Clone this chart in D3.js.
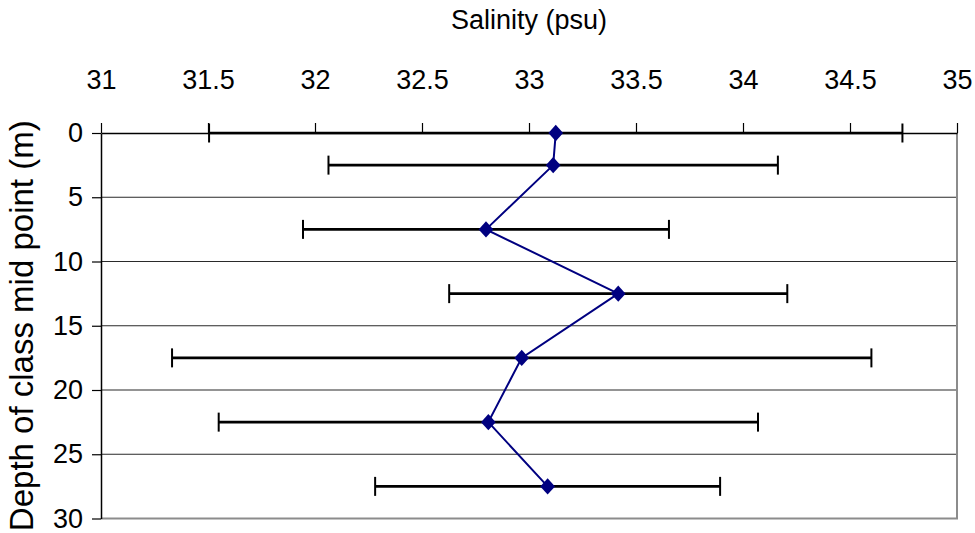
<!DOCTYPE html>
<html>
<head>
<meta charset="utf-8">
<script src="https://cdn.jsdelivr.net/npm/d3@7"></script>
<style>
  html, body { margin: 0; padding: 0; background: #fff; }
  svg { display: block; }
  text { font-family: "Liberation Sans", Arial, sans-serif; fill: #000; }
</style>
</head>
<body>
<svg id="chart" width="975" height="533"></svg>
<script>
// Depth class mid points (m) and salinity statistics (psu)
const depths = [0, 2.5, 7.5, 12.5, 17.5, 22.5, 27.5];
const meanSalinity = [33.125, 33.113, 32.799, 33.417, 32.966, 32.81, 33.087];
const sdSalinity = [1.62, 1.05, 0.855, 0.79, 1.634, 1.26, 0.806];

// Axis ticks
const salinityTicks = [31, 31.5, 32, 32.5, 33, 33.5, 34, 34.5, 35];
const depthTicks = [0, 5, 10, 15, 20, 25, 30];

const width = 975, height = 533;
const margin = { top: 133, right: 18, bottom: 14.5, left: 101 };
const fontSize = 27;

const svg = d3.select("#chart");

const x = d3.scaleLinear()
  .domain([31, 35])
  .range([margin.left, width - margin.right]);

const y = d3.scaleLinear()
  .domain([0, 30])
  .range([margin.top, height - margin.bottom]);

const rows = depths.map((d, i) => ({
  depth: d,
  mean: meanSalinity[i],
  sd: sdSalinity[i]
}));

// Horizontal gridlines
svg.append("g")
  .selectAll("line")
  .data(depthTicks.filter(t => t > 0 && t < 30))
  .join("line")
  .attr("x1", x(31)).attr("x2", x(35))
  .attr("y1", d => y(d)).attr("y2", d => y(d))
  .attr("stroke", "#2a2a2a")
  .attr("stroke-width", 1.2);

// Plot frame: grey right and bottom edges
svg.append("path")
  .attr("d", `M${x(35)},${y(0)}V${y(30)}H${x(31)}`)
  .attr("fill", "none")
  .attr("stroke", "#8c8c8c")
  .attr("stroke-width", 2);

// Top salinity axis
const xAxis = svg.append("g")
  .attr("transform", `translate(0,${y(0)})`)
  .call(d3.axisTop(x)
    .tickValues(salinityTicks)
    .tickFormat(d => String(d))
    .tickSize(10)
    .tickPadding(34)
    .tickSizeOuter(0));
xAxis.select(".domain").attr("stroke", "#000").attr("stroke-width", 1.5);
xAxis.selectAll(".tick line").attr("stroke", "#000").attr("stroke-width", 1.2);
xAxis.selectAll(".tick text")
  .attr("font-size", fontSize)
  .attr("font-family", "Liberation Sans, Arial, sans-serif")
  .attr("fill", "#000");

// Left depth axis
const yAxis = svg.append("g")
  .attr("transform", `translate(${x(31)},0)`)
  .call(d3.axisLeft(y)
    .tickValues(depthTicks)
    .tickSize(9)
    .tickPadding(9)
    .tickSizeOuter(0));
yAxis.select(".domain").attr("stroke", "#000").attr("stroke-width", 1.5);
yAxis.selectAll(".tick line").attr("stroke", "#000").attr("stroke-width", 1.2);
yAxis.selectAll(".tick text")
  .attr("font-size", fontSize)
  .attr("font-family", "Liberation Sans, Arial, sans-serif")
  .attr("fill", "#000");

// Error bars (mean ± standard deviation)
const bars = svg.append("g")
  .attr("stroke", "#000")
  .attr("fill", "none");
bars.selectAll("line.bar")
  .data(rows)
  .join("line")
  .attr("class", "bar")
  .attr("x1", d => x(d.mean - d.sd))
  .attr("x2", d => x(d.mean + d.sd))
  .attr("y1", d => y(d.depth))
  .attr("y2", d => y(d.depth))
  .attr("stroke-width", 2.6);
bars.selectAll("line.cap")
  .data(rows.flatMap(d => [{ v: d.mean - d.sd, depth: d.depth }, { v: d.mean + d.sd, depth: d.depth }]))
  .join("line")
  .attr("class", "cap")
  .attr("x1", d => x(d.v)).attr("x2", d => x(d.v))
  .attr("y1", d => y(d.depth) - 9.5)
  .attr("y2", d => y(d.depth) + 9.5)
  .attr("stroke-width", 2);

// Mean salinity profile
const line = d3.line()
  .x(d => x(d.mean))
  .y(d => y(d.depth));
svg.append("path")
  .datum(rows)
  .attr("d", line)
  .attr("fill", "none")
  .attr("stroke", "#000080")
  .attr("stroke-width", 2);

// Diamond markers
const diamond = {
  draw(context, size) {
    const rx = Math.sqrt(size / 2) * 0.95;
    const ry = Math.sqrt(size / 2) * 1.05;
    context.moveTo(0, -ry);
    context.lineTo(rx, 0);
    context.lineTo(0, ry);
    context.lineTo(-rx, 0);
    context.closePath();
  }
};
svg.append("g")
  .selectAll("path")
  .data(rows)
  .join("path")
  .attr("transform", d => `translate(${x(d.mean)},${y(d.depth)})`)
  .attr("d", d3.symbol().type(diamond).size(120))
  .attr("fill", "#000080");

// Axis titles
svg.append("text")
  .attr("x", (x(31) + x(35)) / 2)
  .attr("y", 29)
  .attr("text-anchor", "middle")
  .attr("font-size", fontSize)
  .text("Salinity (psu)");

svg.append("text")
  .attr("transform", `translate(33,${(y(0) + y(30)) / 2}) rotate(-90)`)
  .attr("text-anchor", "middle")
  .attr("font-size", 33)
  .text("Depth of class mid point (m)");
</script>
</body>
</html>
